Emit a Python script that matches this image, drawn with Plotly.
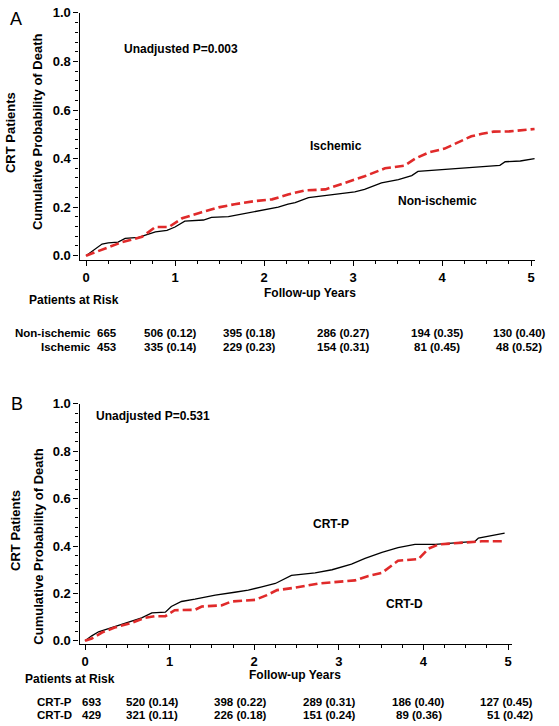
import plotly.graph_objects as go

# ---------------- data ----------------
# Panel A
a_noni_t = [0, 0.08, 0.18, 0.25, 0.36, 0.44, 0.59, 0.78, 0.91, 1.0, 1.11, 1.32, 1.41, 1.60, 1.75, 1.97,
            2.16, 2.27, 2.35, 2.50, 2.80, 3.02, 3.13, 3.32, 3.51, 3.66, 3.73, 4.0, 4.33, 4.65, 4.71, 4.88, 5.04]
a_noni_p = [0, 0.02, 0.048, 0.053, 0.056, 0.071, 0.075, 0.098, 0.104, 0.118, 0.142, 0.147, 0.158, 0.161, 0.172, 0.185,
            0.20, 0.212, 0.219, 0.239, 0.253, 0.263, 0.273, 0.30, 0.313, 0.33, 0.347, 0.354, 0.363, 0.372, 0.387, 0.39, 0.40]
a_isch_t = [0, 0.10, 0.25, 0.40, 0.63, 0.78, 0.93, 1.08, 1.30, 1.49, 1.67, 1.90, 2.09, 2.27, 2.46, 2.69, 2.83,
            3.13, 3.36, 3.58, 3.70, 3.85, 4.03, 4.18, 4.33, 4.45, 4.58, 4.76, 5.04]
a_isch_p = [0, 0.013, 0.034, 0.055, 0.078, 0.118, 0.118, 0.154, 0.179, 0.199, 0.212, 0.225, 0.232, 0.252, 0.269, 0.273, 0.29,
            0.327, 0.36, 0.371, 0.40, 0.425, 0.441, 0.468, 0.492, 0.502, 0.511, 0.512, 0.522]

# Panel B
b_crtp_t = [0, 0.08, 0.16, 0.28, 0.47, 0.67, 0.79, 0.95, 1.02, 1.14, 1.30, 1.54, 1.77, 1.93, 2.09, 2.25, 2.44,
            2.72, 2.92, 3.03, 3.15, 3.31, 3.51, 3.70, 3.90, 4.14, 4.45, 4.61, 4.65, 4.83, 4.96]
b_crtp_p = [0, 0.021, 0.038, 0.052, 0.074, 0.097, 0.118, 0.121, 0.145, 0.166, 0.176, 0.193, 0.205, 0.214, 0.228, 0.242, 0.276,
            0.287, 0.30, 0.31, 0.324, 0.348, 0.373, 0.393, 0.407, 0.407, 0.416, 0.42, 0.434, 0.445, 0.455]
b_crtd_t = [0, 0.08, 0.20, 0.35, 0.55, 0.71, 0.83, 0.95, 1.06, 1.30, 1.38, 1.62, 1.73, 2.01, 2.15, 2.27, 2.48,
            2.76, 3.19, 3.35, 3.51, 3.65, 3.70, 3.94, 4.06, 4.18, 4.45, 4.69, 4.96]
b_crtd_p = [0, 0.01, 0.035, 0.056, 0.076, 0.097, 0.104, 0.104, 0.129, 0.131, 0.145, 0.15, 0.166, 0.173, 0.193, 0.214, 0.224,
            0.242, 0.255, 0.274, 0.287, 0.324, 0.338, 0.345, 0.389, 0.407, 0.414, 0.42, 0.42]

# Risk tables
a_groups = ["Non-ischemic", "Ischemic"]
a_n0 = ["665", "453"]
a_risk = [["506 (0.12)", "395 (0.18)", "286 (0.27)", "194 (0.35)", "130 (0.40)"],
          ["335 (0.14)", "229 (0.23)", "154 (0.31)", "81 (0.45)", "48 (0.52)"]]
b_groups = ["CRT-P", "CRT-D"]
b_n0 = ["693", "429"]
b_risk = [["520 (0.14)", "398 (0.22)", "289 (0.31)", "186 (0.40)", "127 (0.45)"],
          ["321 (0.11)", "226 (0.18)", "151 (0.24)", "89 (0.36)", "51 (0.42)"]]

y_ticks = [0, 0.2, 0.4, 0.6, 0.8, 1.0]
x_ticks = [0, 1, 2, 3, 4, 5]

# ---------------- layout helpers ----------------
W, H = 559, 726
FONT = "Liberation Sans, Arial, sans-serif"
RED = "#e02a2a"


def fx(px):
    return px / W


def fy(py):
    return 1 - py / H


fig = go.Figure()

line_black = dict(color="black", width=1.3)
line_red = dict(color=RED, width=2.6, dash="9px,4px")

fig.add_trace(go.Scatter(x=a_noni_t, y=a_noni_p, mode="lines", line=line_black, xaxis="x", yaxis="y", showlegend=False))
fig.add_trace(go.Scatter(x=a_isch_t, y=a_isch_p, mode="lines", line=line_red, xaxis="x", yaxis="y", showlegend=False))
fig.add_trace(go.Scatter(x=b_crtp_t, y=b_crtp_p, mode="lines", line=line_black, xaxis="x2", yaxis="y2", showlegend=False))
fig.add_trace(go.Scatter(x=b_crtd_t, y=b_crtd_p, mode="lines", line=line_red, xaxis="x2", yaxis="y2", showlegend=False))

tickfont = dict(family=FONT, size=13, color="black", weight="bold")


def xax(domain, anchor, rng):
    return dict(domain=domain, anchor=anchor, range=rng, tickvals=x_ticks, ticktext=[str(v) for v in x_ticks],
                showline=True, linecolor="black", linewidth=1.3, ticks="outside", ticklen=5, tickwidth=1.2,
                tickcolor="black", showgrid=False, zeroline=False, tickfont=tickfont,
                minor=dict(dtick=0.25, tick0=0, ticks="outside", ticklen=3, tickwidth=1, tickcolor="black", showgrid=False))


def yax(domain, anchor, rng):
    return dict(domain=domain, anchor=anchor, range=rng, tickvals=y_ticks, ticktext=["%.1f" % v for v in y_ticks],
                showline=True, linecolor="black", linewidth=1.3, ticks="outside", ticklen=5, tickwidth=1.2,
                tickcolor="black", showgrid=False, zeroline=False, tickfont=tickfont,
                minor=dict(dtick=0.04, tick0=0, ticks="outside", ticklen=3, tickwidth=1, tickcolor="black", showgrid=False))


fig.update_layout(
    width=W, height=H, margin=dict(l=0, r=0, t=0, b=0),
    paper_bgcolor="white", plot_bgcolor="white",
    xaxis=xax([fx(79.5), fx(535)], "y", [-0.073, 5.045]),
    yaxis=yax([fy(256.7), fy(6)], "x", [-0.017, 1.0]),
    xaxis2=xax([fx(79.5), fx(512)], "y2", [-0.065, 5.047]),
    yaxis2=yax([fy(646.7), fy(403)], "x2", [-0.013, 1.0]),
)

ann = []


def text(s, x, y, size=12, bold=True, xanchor="center", angle=0):
    ann.append(dict(text=("<b>%s</b>" % s) if bold else s, x=fx(x), y=fy(y), xref="paper", yref="paper",
                    xanchor=xanchor, yanchor="middle", showarrow=False, textangle=angle, borderpad=0,
                    font=dict(family=FONT, size=size, color="black")))


RS = 11.5  # risk-table font size

# Panel A annotations
text("A", 16, 12, size=18, bold=False)
text("Unadjusted P=0.003", 181, 43)
text("Ischemic", 336, 141)
text("Non-ischemic", 437, 197)
text("CRT Patients", 10, 128, size=13, angle=-90)
text("Cumulative Probability of Death", 37, 127, size=13, angle=-90)
text("Follow-up Years", 310, 290)
text("Patients at Risk", 28, 297, xanchor="left")
a_cols = [170, 249.5, 343, 437, 519]
a_rows = [331.2, 344.8]
for i in range(2):
    text(a_groups[i], 92, a_rows[i], size=RS, xanchor="right")
    text(a_n0[i], 95.5, a_rows[i], size=RS, xanchor="left")
    for j in range(5):
        text(a_risk[i][j], a_cols[j], a_rows[i], size=RS)

# Panel B annotations
text("B", 17, 403, size=18, bold=False)
text("Unadjusted P=0.531", 153, 415)
text("CRT-P", 331, 525)
text("CRT-D", 404, 606)
text("CRT Patients", 16, 532, size=13, angle=-90)
text("Cumulative Probability of Death", 39, 548, size=13, angle=-90)
text("Follow-up Years", 295, 678)
text("Patients at Risk", 24, 682, xanchor="left")
b_cols = [[152, 240, 329, 418, 506], [152, 240, 329, 419, 510]]
b_rows = [705.6, 719.2]
for i in range(2):
    text(b_groups[i], 73, b_rows[i], size=RS, xanchor="right")
    text(b_n0[i], 81, b_rows[i], size=RS, xanchor="left")
    for j in range(5):
        text(b_risk[i][j], b_cols[i][j], b_rows[i], size=RS)

fig.update_layout(annotations=ann)
fig.write_html("out.html", config={"displayModeBar": False},
               post_script="document.body.style.margin='0';document.body.style.overflow='hidden';")
